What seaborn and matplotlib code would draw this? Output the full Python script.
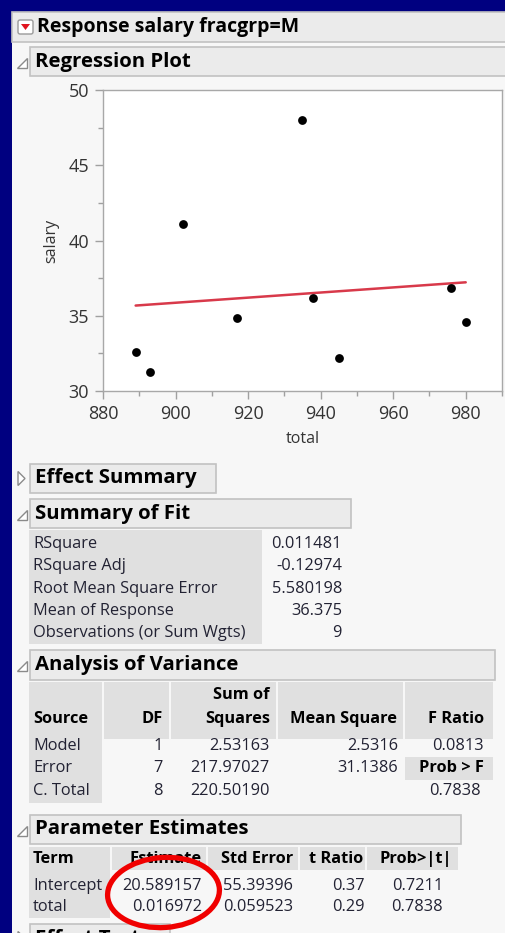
import numpy as np
import seaborn as sns
import matplotlib.pyplot as plt
from matplotlib import font_manager
from matplotlib.patches import Rectangle, Polygon, Ellipse, FancyBboxPatch
from matplotlib.ticker import MultipleLocator

# data
total = [889, 893, 902, 917, 935, 938, 945, 976, 980]
salary = [32.6, 31.25, 41.1, 34.87, 47.98, 36.18, 32.2, 36.83, 34.6]
intercept = 20.589157
slope = 0.016972

fit_labels = ['RSquare', 'RSquare Adj', 'Root Mean Square Error',
              'Mean of Response', 'Observations (or Sum Wgts)']
fit_values = ['0.011481', '-0.12974', '5.580198', '36.375', '9']

anova_source = ['Model', 'Error', 'C. Total']
anova_df = ['1', '7', '8']
anova_ss = ['2.53163', '217.97027', '220.50190']
anova_ms = ['2.5316', '31.1386', '']
anova_f = '0.0813'
anova_p = '0.7838'

param_terms = ['Intercept', 'total']
param_est = ['20.589157', '0.016972']
param_se = ['55.39396', '0.059523']
param_t = ['0.37', '0.29']
param_p = ['0.7211', '0.7838']

sns.set_theme(style='ticks')

# pick a sans family that really has a bold face installed
family = 'DejaVu Sans'
for fam in ['Open Sans', 'Noto Sans', 'Lato', 'Roboto', 'Liberation Sans']:
    try:
        path = font_manager.findfont(
            font_manager.FontProperties(family=fam, weight='bold'),
            fallback_to_default=False)
    except Exception:
        continue
    if 'bold' in path.lower():
        family = fam
        break
plt.rcParams['font.family'] = [family, 'DejaVu Sans']

W, H = 506, 933
NAVY = '#000080'
PANEL = '#f7f7f7'
BAR = '#ebebeb'
BAR_EDGE = '#c2c2c2'
CELL = '#e0e0e0'
TXT = '#222233'
FS = 11.8     # table text
HS = 14.7     # section headers

fig = plt.figure(figsize=(W / 100, H / 100), dpi=100, facecolor=NAVY)

# background canvas in pixel coordinates (y down)
bg = fig.add_axes([0, 0, 1, 1])
bg.set_xlim(0, W)
bg.set_ylim(H, 0)
bg.axis('off')


def rect(x0, y0, x1, y1, fc, ec='none', lw=1.0, z=1):
    bg.add_patch(Rectangle((x0, y0), x1 - x0, y1 - y0, facecolor=fc,
                           edgecolor=ec, linewidth=lw, zorder=z))


def txt(x, y, s, ha='left', size=FS, weight='normal', color=TXT, z=3):
    bg.text(x, y, s, ha=ha, va='center', fontsize=size, fontweight=weight,
            color=color, zorder=z)


def section(x0, y0, x1, y1, label, icon='open'):
    rect(x0, y0, x1, y1, BAR, BAR_EDGE, 1.2, 2)
    txt(x0 + 5, (y0 + y1) / 2, label, size=HS, weight='bold',
        color='black')
    yc = (y0 + y1) / 2
    if icon == 'open':
        tri = [(17, yc + 6), (27, yc + 6), (27, yc - 4)]
    else:
        tri = [(18, yc - 7), (18, yc + 7), (25, yc)]
    bg.add_patch(Polygon(tri, closed=True, facecolor='white',
                         edgecolor='#8a8a8a', linewidth=1, zorder=3))


# main panel
rect(12, 12, W, H, PANEL, z=0)

# report title bar with red disclosure button
rect(12, 12, W + 2, 42, BAR, BAR_EDGE, 1.2, 2)
bg.add_patch(FancyBboxPatch((18, 20), 15, 14,
                            boxstyle='round,pad=0,rounding_size=2',
                            facecolor='white', edgecolor='#9a9a9a',
                            linewidth=1, zorder=3))
bg.add_patch(Polygon([(21, 24), (30, 24), (25.5, 30)], closed=True,
                     facecolor='#e0141e', edgecolor='none', zorder=4))
txt(37, 27, 'Response salary fracgrp=M', size=14, weight='bold',
    color='black')

section(30, 47, W + 2, 76, 'Regression Plot')

# regression plot
ax = fig.add_axes([103 / W, 1 - 391 / H, 399 / W, 301 / H])
ax.set_facecolor('white')
sns.scatterplot(x=total, y=salary, color='black', s=40, linewidth=0,
                ax=ax, zorder=3)
xfit = np.array([min(total), max(total)])
sns.lineplot(x=xfit, y=intercept + slope * xfit, color='#d8394a',
             linewidth=1.8, ax=ax, zorder=2)
ax.set_xlim(880, 990)
ax.set_ylim(30, 50)
ax.xaxis.set_minor_locator(MultipleLocator(10))
ax.yaxis.set_major_locator(MultipleLocator(5))
ax.yaxis.set_minor_locator(MultipleLocator(2.5))
ax.set_xticks(np.arange(880, 981, 20))
ax.tick_params(which='major', length=6, width=1, color='#a0a0a0',
               labelsize=13, labelcolor='#333333', pad=4)
ax.tick_params(which='minor', length=3.5, width=1, color='#a0a0a0')
ax.tick_params(axis='y', pad=4)
for sp in ax.spines.values():
    sp.set_visible(True)
    sp.set_color('#a8a8a8')
    sp.set_linewidth(1)
ax.set_xlabel('total', fontsize=11.5, color='#333333', labelpad=6)
ax.set_ylabel('salary', fontsize=11.5, color='#333333', labelpad=7)

# effect summary (closed) and summary of fit
section(30, 464, 216, 493, 'Effect Summary', icon='closed')
section(30, 499, 351, 528, 'Summary of Fit')
rect(29, 530, 262, 644, CELL)
for i, (lab, val) in enumerate(zip(fit_labels, fit_values)):
    y = 544 + 22.3 * i
    txt(33, y, lab)
    txt(342, y, val, ha='right')

# analysis of variance
section(30, 650, 495, 680, 'Analysis of Variance')
hdr = [(29, 102), (104, 169), (171, 276), (278, 403), (405, 493)]
for x0, x1 in hdr:
    rect(x0, 682, x1, 739, CELL)
rect(29, 739, 102, 803, CELL)
rect(405, 757, 493, 780, CELL)
txt(33, 719, 'Source', weight='bold', color='black')
txt(163, 719, 'DF', ha='right', weight='bold', color='black')
txt(270, 695, 'Sum of', ha='right', weight='bold', color='black')
txt(270, 719, 'Squares', ha='right', weight='bold', color='black')
txt(397, 719, 'Mean Square', ha='right', weight='bold', color='black')
txt(484, 719, 'F Ratio', ha='right', weight='bold', color='black')
for i in range(len(anova_source)):
    y = 746 + 22.5 * i
    txt(33, y, anova_source[i])
    txt(163, y, anova_df[i], ha='right')
    txt(270, y, anova_ss[i], ha='right')
    txt(398, y, anova_ms[i], ha='right')
txt(484, 746, anova_f, ha='right')
txt(484, 768, 'Prob > F', ha='right', weight='bold', color='black')
txt(481, 791, anova_p, ha='right')

# parameter estimates
section(30, 815, 461, 844, 'Parameter Estimates')
cols = [(29, 110), (112, 206), (208, 298), (300, 365), (367, 458)]
for x0, x1 in cols:
    rect(x0, 847, x1, 870, CELL)
rect(29, 870, 110, 918, CELL)
txt(33, 859, 'Term', weight='bold', color='black')
txt(202, 859, 'Estimate', ha='right', weight='bold', color='black')
txt(293, 859, 'Std Error', ha='right', weight='bold', color='black')
txt(363, 859, 't Ratio', ha='right', weight='bold', color='black')
txt(452, 859, 'Prob>|t|', ha='right', weight='bold', color='black')
for i in range(len(param_terms)):
    y = 886 + 21 * i
    txt(33, y, param_terms[i])
    txt(202, y, param_est[i], ha='right')
    txt(293, y, param_se[i], ha='right')
    txt(365, y, param_t[i], ha='right')
    txt(443, y, param_p[i], ha='right')

# effect tests header, cut off at the bottom edge like the screenshot
section(30, 924, 170, 953, 'Effect Tests', icon='closed')

# red highlight around the estimates
bg.add_patch(Ellipse((163.5, 892.5), 112, 70, angle=-4, facecolor='none',
                     edgecolor='#f00000', linewidth=3.8, zorder=6))

fig.savefig('out.png', dpi=100, facecolor=NAVY)
